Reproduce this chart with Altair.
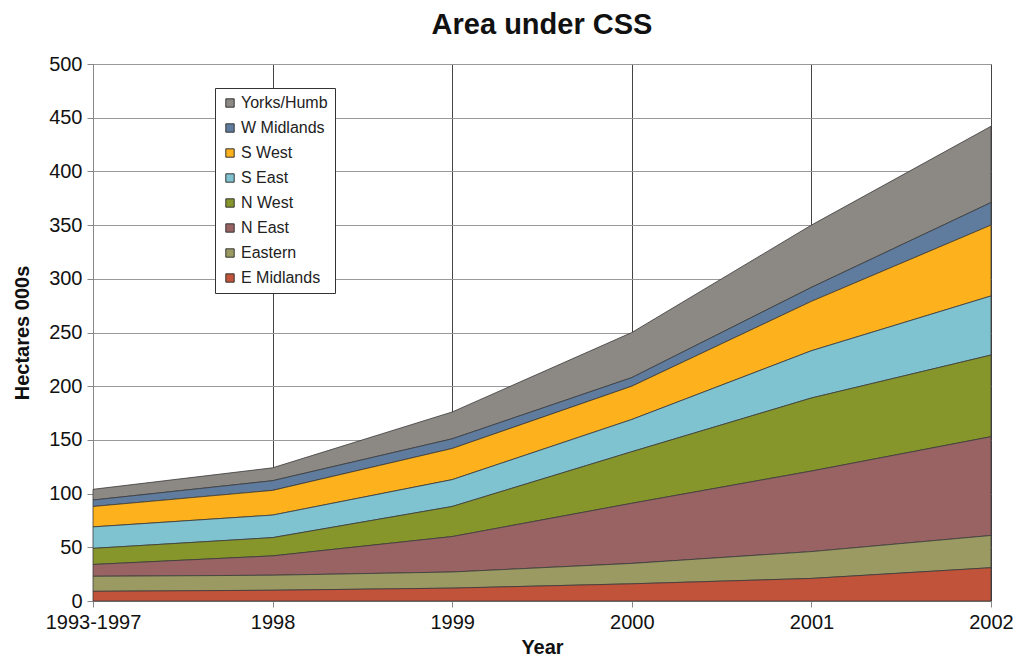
import altair as alt
import pandas as pd

years = ["1993-1997", "1998", "1999", "2000", "2001", "2002"]
regions = ["Yorks/Humb", "W Midlands", "S West", "S East", "N West", "N East", "Eastern", "E Midlands"]
colors = ["#8C8883", "#5F7C9E", "#FDB11C", "#7FC2D0", "#87962A", "#996363", "#9C9A63", "#C0533A"]

yorks_humb = [10, 12, 25, 42, 58, 71]
w_midlands = [6, 9, 9, 8, 13, 21]
s_west = [19, 23, 29, 31, 46, 66]
s_east = [20, 21, 25, 30, 44, 55]
n_west = [15, 17, 28, 48, 68, 76]
n_east = [11, 18, 33, 56, 75, 92]
eastern = [14, 14, 15, 19, 25, 30]
e_midlands = [9, 10, 12, 16, 21, 31]

series = [yorks_humb, w_midlands, s_west, s_east, n_west, n_east, eastern, e_midlands]

rows = []
for i, (name, vals) in enumerate(zip(regions, series)):
    for y, v in zip(years, vals):
        rows.append({"Year": y, "Region": name, "Value": v, "ord": len(regions) - 1 - i})
df = pd.DataFrame(rows)

FONT = "Liberation Sans"

chart = alt.Chart(df).mark_area(
    stroke="#3a3a3a", strokeWidth=0.8, fillOpacity=1
).encode(
    x=alt.X("Year:O", sort=years, scale=alt.Scale(type="point", padding=0),
            axis=alt.Axis(title="Year", labelAngle=0, grid=True, gridColor="#444444",
                          gridWidth=1, tickSize=6, labelPadding=5, titlePadding=5)),
    y=alt.Y("Value:Q", stack="zero", scale=alt.Scale(domain=[0, 500]),
            axis=alt.Axis(title="Hectares 000s", values=list(range(0, 501, 50)),
                          grid=True, gridColor="#999999", tickSize=6,
                          labelPadding=5, titlePadding=16)),
    color=alt.Color("Region:N", scale=alt.Scale(domain=regions, range=colors),
                    legend=alt.Legend(title=None, orient="none", legendX=122, legendY=24,
                                      symbolType="square", symbolSize=70,
                                      symbolStrokeColor="#333333", symbolStrokeWidth=1,
                                      labelFontSize=16, labelFont=FONT, labelColor="#222222",
                                      rowPadding=9, padding=7, strokeColor="#333333",
                                      fillColor="white", labelOffset=3)),
    order=alt.Order("ord:Q", sort="ascending"),
).properties(
    width=898, height=537,
    title=alt.TitleParams("Area under CSS", fontSize=29, font=FONT, fontWeight="bold",
                          color="#111111", anchor="middle", offset=14),
    autosize=alt.AutoSizeParams(type="none"),
    padding={"left": 93, "top": 64, "right": 25, "bottom": 56},
).configure_axis(
    labelFont=FONT, titleFont=FONT, labelFontSize=20, titleFontSize=20,
    titleFontWeight="bold", labelColor="#111111", titleColor="#111111",
    domainColor="#888888", tickColor="#888888",
).configure_view(
    stroke="#888888", strokeWidth=1
)

chart.save("out.html", embed_options={"renderer": "svg", "actions": False})
